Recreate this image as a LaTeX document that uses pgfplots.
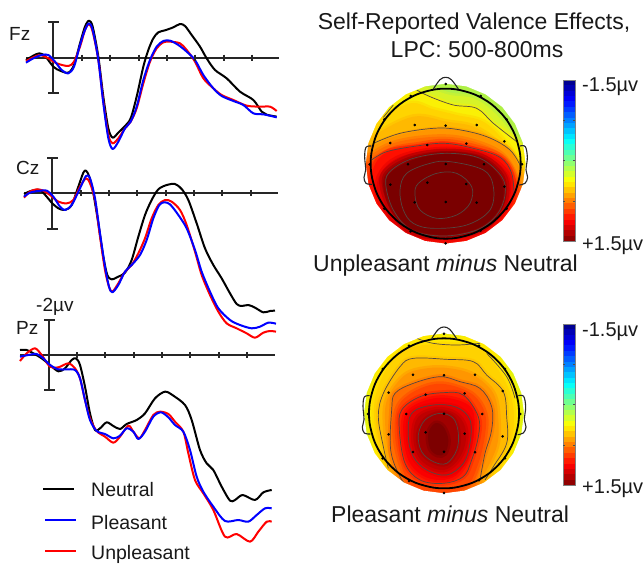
\documentclass[border=0pt]{standalone}
\usepackage{fontspec}
\setmainfont{Liberation Sans}
\usepackage{pgfplots}
\usepackage{pgfplotstable}
\pgfplotsset{compat=1.18}
\definecolor{erpred}{RGB}{255,0,0}
\definecolor{erpblue}{RGB}{0,0,255}
\definecolor{cline}{RGB}{85,70,65}
\newcommand\fs[1]{\fontsize{#1}{#1}\selectfont}
% every axis fills the whole picture, only the limits differ
\pgfplotsset{
  full/.style={scale only axis,width=644pt,height=564pt,at={(0,0)},anchor=south west,
    axis lines=none,ticks=none,y dir=reverse,enlargelimits=false},
  erp/.style={full,xmin=0,xmax=1932,ymin=#1,ymax=#1+1692},
  topo/.style 2 args={full,xmin=#1,xmax=#1+1932,ymin=#2,ymax=#2+1692},
  bar/.style 2 args={full,xmin=0,xmax=644,ymin=#1,ymax=#2},
  base/.style={black!85,line width=2pt},
  tk/.style={black!85,only marks,mark=|,mark size=3pt,mark options={line width=1.8pt}},
  range/.style={black!85,line width=2pt,mark=-,mark size=5.5pt,mark options={line width=2pt}},
  curve/.style={#1,smooth,tension=0.5,line width=2pt,line join=round},
}
% half transparent edge softens the step between two levels
\newcommand\lev[4]{\addplot[smooth cycle,tension=0.6,fill={rgb,255:red,#1;green,#2;blue,#3},draw={rgb,255:red,#1;green,#2;blue,#3},draw opacity=0.5,line width=5pt] coordinates {#4};}
\newcommand\iso[1]{\addplot[smooth,tension=0.6,cline,line width=0.7pt] coordinates {#1};}
\newcommand\isoc[1]{\addplot[smooth cycle,tension=0.6,cline,line width=0.7pt] coordinates {#1};}

% white ring round the coloured disk
\pgfplotstableread{
x y
-40 -40
620 -40
620 590
-40 590
-40 -40
47 281
55 219
79 161
117 111
167 73
225 49
287 41
349 49
407 73
457 111
495 161
519 219
527 281
519 343
495 401
457 451
407 489
349 513
287 521
225 513
167 489
117 451
79 401
55 343
47 281
-40 -40
}\ringtab
\pgfplotstableread{
x y
512 281
504 223
482 169
446 122
399 86
345 64
287 56
229 64
175 86
128 122
92 169
70 223
62 281
70 339
92 393
128 440
175 476
229 498
287 506
345 498
399 476
446 440
482 393
504 339
}\headtab
\pgfplotstableread{
x y
287 42
182 78
392 78
103 148
470 148
194 165
287 167
380 165
121 219
232 225
349 221
463 214
59 283
174 283
287 282
402 283
516 283
121 344
232 338
349 342
463 350
103 416
194 397
287 396
380 398
470 416
182 484
392 482
287 520
}\sitetab
\pgfplotstableread{
x y
569 -1.5
569 -1.4
569 -1.3
569 -1.2
569 -1.1
569 -1.0
569 -0.9
569 -0.8
569 -0.7
569 -0.6
569 -0.5
569 -0.4
569 -0.3
569 -0.2
569 -0.1
569 0
569 0.1
569 0.2
569 0.3
569 0.4
569 0.5
569 0.6
569 0.7
569 0.8
569 0.9
569 1.0
569 1.1
569 1.2
569 1.3
569 1.4
569 1.5
}\bartab

\newcommand\headparts{%
  \addplot[fill=white,draw=none,even odd rule] table[x=x,y=y] {\ringtab};
  \addplot[smooth cycle,tension=0.7,black,line width=1.8pt] table[x=x,y=y] {\headtab};
  \addplot[smooth,tension=0.6,black!85,line width=1.1pt] coordinates {(250,57)(270,29)(287,22)(304,29)(325,57)};
  \addplot[smooth,tension=0.6,black!85,line width=1.1pt] coordinates {(64,228)(48,232)(44,260)(47,300)(42,322)(48,340)(66,343)};
  \addplot[smooth,tension=0.6,black!85,line width=1.1pt] coordinates {(510,228)(526,230)(532,262)(528,300)(533,322)(525,340)(508,345)};
  \addplot[only marks,black,mark=*,mark size=1.1pt] table[x=x,y=y] {\sitetab};
}
\newcommand\colorbarparts{%
  \addplot[mesh,shader=flat,line width=12pt,colormap/jet,point meta=y,point meta min=-1.5,point meta max=1.5,line cap=butt] table[x=x,y=y] {\bartab};
  \addplot[gray,line width=0.6pt] coordinates {(563,-1.5)(575,-1.5)(575,1.5)(563,1.5)(563,-1.5)};
  \addplot[black!70,line width=0.5pt] coordinates {(563,-0.75)(565,-0.75)};
  \addplot[black!70,line width=0.5pt] coordinates {(573,-0.75)(575,-0.75)};
  \addplot[black!70,line width=0.5pt] coordinates {(563,0)(565,0)};
  \addplot[black!70,line width=0.5pt] coordinates {(573,0)(575,0)};
  \addplot[black!70,line width=0.5pt] coordinates {(563,0.75)(565,0.75)};
  \addplot[black!70,line width=0.5pt] coordinates {(573,0.75)(575,0.75)};
}

\begin{document}
\begin{tikzpicture}
\useasboundingbox (0,0) rectangle (644pt,564pt);
% Fz
\begin{axis}[erp=0]
\addplot[base] coordinates {(78,173)(838,173)};
\addplot[tk] coordinates {(246,173)(331,173)(416,173)(501,173)(586,173)(671,173)(756,173)};
\addplot[range] coordinates {(160,67)(160,280)};
\addplot[curve=black] coordinates {(78,180)(100,167)(118,160)(135,168)(160,200)(180,212)(205,218)(222,195)(240,130)(255,80)(267,62)(278,80)(295,170)(310,290)(325,385)(338,413)(355,398)(375,378)(392,355)(410,290)(430,200)(445,150)(460,115)(475,97)(495,91)(520,82)(540,72)(555,78)(575,105)(600,140)(620,175)(645,210)(680,235)(720,275)(760,300)(785,335)(800,344)(830,350)};
\addplot[curve=erpred] coordinates {(78,183)(100,172)(120,165)(145,175)(170,190)(205,198)(222,185)(240,140)(255,90)(267,72)(278,95)(295,180)(310,305)(325,405)(338,430)(355,415)(375,385)(392,365)(410,325)(430,250)(450,185)(470,145)(490,127)(510,125)(540,130)(560,150)(585,185)(610,235)(640,265)(665,285)(700,300)(740,317)(780,320)(810,320)(830,333)};
\addplot[curve=erpblue] coordinates {(78,188)(100,175)(125,165)(145,165)(165,185)(185,210)(205,220)(222,200)(240,135)(255,90)(267,70)(278,90)(295,180)(310,310)(325,415)(338,447)(355,425)(375,385)(392,365)(410,320)(430,240)(450,180)(470,140)(490,123)(510,122)(535,135)(560,155)(585,180)(610,225)(640,265)(665,288)(700,303)(730,315)(760,340)(790,343)(830,352)};
\end{axis}
% Cz
\begin{axis}[erp=-450]
\addplot[base] coordinates {(72,129)(835,129)};
\addplot[tk] coordinates {(242,129)(327,129)(411,129)(497,129)(582,129)(667,129)(752,129)};
\addplot[range] coordinates {(157,23)(157,237)};
\addplot[curve=black] coordinates {(72,132)(95,122)(120,120)(140,140)(157,160)(175,175)(195,180)(215,165)(235,110)(250,68)(258,62)(268,80)(280,130)(295,220)(310,320)(322,375)(335,388)(355,380)(375,368)(395,330)(415,260)(435,195)(455,150)(475,118)(500,105)(525,102)(545,117)(565,150)(590,220)(615,295)(640,345)(665,385)(690,430)(710,462)(725,468)(745,465)(765,473)(790,487)(810,483)(825,482)};
\addplot[curve=erpred] coordinates {(72,143)(90,125)(110,118)(130,122)(150,135)(175,155)(200,160)(220,150)(240,110)(258,85)(270,100)(285,150)(300,260)(315,360)(327,410)(337,425)(355,400)(375,365)(395,345)(415,310)(435,265)(455,205)(475,165)(495,150)(515,155)(540,180)(560,225)(585,305)(605,375)(630,435)(655,485)(680,520)(710,535)(740,550)(765,563)(790,548)(810,543)(828,545)};
\addplot[curve=erpblue] coordinates {(72,140)(90,128)(115,123)(140,122)(160,140)(180,170)(195,180)(215,165)(240,115)(258,78)(270,85)(285,145)(300,250)(315,350)(327,410)(337,427)(355,405)(375,365)(395,345)(420,315)(440,270)(460,205)(478,165)(493,157)(510,163)(535,195)(560,235)(585,300)(605,365)(630,425)(655,475)(690,510)(720,525)(755,535)(780,530)(805,518)(828,521)};
\end{axis}
% Pz and legend lines
\begin{axis}[erp=-870]
\addplot[base] coordinates {(60,195)(825,195)};
\addplot[tk] coordinates {(232,195)(316,195)(401,195)(486,195)(571,195)(656,195)(741,195)};
\addplot[range] coordinates {(147,90)(147,300)};
\addplot[curve=black] coordinates {(60,180)(80,180)(100,190)(125,205)(150,225)(175,244)(195,235)(215,210)(228,205)(240,225)(255,290)(270,370)(285,420)(300,415)(320,397)(340,408)(360,417)(380,402)(410,390)(435,370)(465,325)(495,305)(520,317)(555,345)(575,390)(600,480)(620,520)(640,540)(665,590)(690,632)(705,630)(728,615)(765,630)(790,607)(815,600)};
\addplot[curve=erpred] coordinates {(60,213)(80,190)(105,175)(125,195)(150,230)(175,232)(205,220)(225,235)(240,265)(255,330)(270,385)(290,423)(315,440)(340,458)(360,440)(385,407)(400,425)(418,445)(435,420)(460,375)(480,365)(505,372)(525,395)(550,425)(565,490)(585,570)(610,610)(640,660)(675,740)(710,732)(750,755)(775,725)(800,695)(815,695)};
\addplot[curve=erpblue] coordinates {(60,200)(85,195)(110,192)(130,205)(150,225)(175,238)(200,238)(225,240)(240,265)(255,330)(270,390)(290,423)(315,432)(340,445)(360,437)(380,415)(400,425)(415,447)(435,425)(460,380)(483,367)(505,382)(525,405)(550,425)(570,480)(590,560)(610,605)(640,650)(675,693)(715,690)(745,695)(770,675)(795,655)(815,655)};
\addplot[black,line width=1.8pt] coordinates {(130,597)(222,597)};
\addplot[erpblue,line width=1.8pt] coordinates {(135,690)(228,690)};
\addplot[erpred,line width=1.8pt] coordinates {(135,783)(228,783)};
\end{axis}
% upper map, unpleasant minus neutral
\begin{axis}[topo={-1050}{-210}]
\lev{175}{240}{70}{(40,30)(287,30)(530,30)(540,280)(540,530)(287,535)(40,530)(35,280)}
\lev{215}{243}{40}{(30,160)(110,70)(180,35)(240,55)(300,75)(370,85)(430,125)(490,195)(545,280)(545,540)(30,540)}
\lev{250}{240}{5}{(30,185)(100,95)(170,60)(240,80)(310,105)(380,115)(430,160)(500,215)(545,310)(545,540)(30,540)}
\lev{255}{212}{0}{(30,215)(85,150)(180,100)(250,118)(320,135)(400,155)(460,210)(510,275)(545,345)(545,540)(30,540)}
\lev{255}{185}{0}{(30,240)(75,195)(190,140)(290,155)(370,170)(440,215)(495,275)(530,345)(545,540)(30,540)}
\lev{255}{150}{0}{(30,270)(75,225)(150,195)(250,178)(320,180)(410,202)(480,242)(515,315)(535,400)(545,540)(30,540)}
\lev{255}{110}{0}{(30,295)(70,250)(150,214)(280,200)(380,217)(460,257)(505,335)(515,400)(500,540)(30,540)}
\lev{255}{60}{0}{(30,330)(65,275)(130,237)(200,224)(285,214)(375,230)(455,260)(495,322)(505,400)(440,500)(400,540)(30,540)}
\lev{255}{15}{0}{(50,410)(68,300)(110,247)(200,230)(285,222)(370,237)(450,264)(485,312)(492,380)(460,450)(385,510)(280,530)(170,520)(90,460)}
\lev{225}{0}{0}{(80,355)(105,292)(170,254)(290,237)(400,254)(470,307)(482,370)(450,440)(385,492)(280,510)(180,495)(110,435)}
\lev{165}{0}{0}{(95,340)(115,295)(185,258)(290,243)(395,258)(460,312)(470,375)(445,435)(385,482)(280,502)(185,485)(125,425)}
\lev{122}{0}{0}{(107,345)(125,305)(195,268)(290,252)(390,268)(450,322)(460,380)(435,435)(375,478)(280,495)(190,478)(130,420)}
\iso{(200,60)(240,80)(310,105)(380,115)(430,160)(500,215)}
\iso{(100,142)(130,105)}
\iso{(75,218)(150,190)(250,175)(320,178)(410,200)(480,240)(515,295)}
\iso{(65,270)(110,245)(200,228)(285,220)(370,235)(450,262)(485,310)(492,380)}
\isoc{(107,340)(125,300)(190,265)(290,250)(390,265)(455,320)(465,375)(440,435)(380,480)(280,498)(185,480)(130,420)}
\isoc{(150,360)(170,310)(240,280)(300,275)(400,300)(430,350)(420,420)(350,465)(250,475)(190,460)(160,420)}
\isoc{(195,375)(205,340)(260,310)(320,310)(365,350)(360,400)(320,435)(260,445)(210,420)}
\headparts
\end{axis}
% lower map, pleasant minus neutral
\begin{axis}[topo={-1050}{-960}]
\lev{225}{245}{15}{(35,280)(50,100)(280,30)(520,100)(530,280)(520,470)(280,530)(50,470)}
\lev{255}{235}{0}{(58,280)(70,180)(125,90)(200,50)(290,48)(390,60)(450,115)(495,210)(505,300)(475,430)(400,530)(160,530)(80,420)}
\lev{255}{210}{0}{(72,290)(85,200)(135,110)(195,80)(290,72)(385,85)(435,135)(482,225)(490,330)(455,440)(385,535)(150,535)(95,420)}
\lev{255}{185}{0}{(85,290)(100,220)(150,140)(190,115)(290,118)(370,125)(410,165)(460,215)(470,290)(470,370)(430,440)(385,535)(165,535)(105,400)}
\lev{255}{150}{0}{(105,300)(115,230)(165,165)(230,145)(300,145)(370,165)(430,220)(445,300)(440,380)(400,470)(375,535)(170,535)(120,420)}
\lev{255}{110}{0}{(122,390)(125,270)(135,220)(190,190)(270,170)(330,185)(390,205)(425,260)(425,330)(405,400)(380,480)(360,535)(190,535)(145,460)}
\lev{255}{70}{0}{(135,350)(140,270)(175,225)(240,195)(300,195)(370,225)(405,280)(405,345)(385,430)(350,500)(280,520)(190,500)(155,440)}
\lev{255}{30}{0}{(148,330)(155,270)(210,230)(280,218)(340,225)(385,290)(385,350)(365,420)(340,470)(280,490)(210,480)(165,430)}
\lev{250}{0}{0}{(160,340)(170,275)(230,240)(300,235)(365,265)(372,340)(355,410)(320,465)(270,480)(215,465)(175,420)}
\lev{225}{0}{0}{(175,350)(185,280)(250,255)(320,262)(360,300)(360,370)(340,430)(290,465)(230,450)(190,410)}
\lev{190}{0}{0}{(190,345)(205,290)(260,268)(315,280)(345,320)(345,375)(320,425)(280,450)(230,435)(200,400)}
\lev{160}{0}{0}{(205,345)(225,300)(270,280)(310,295)(325,340)(320,390)(290,430)(250,425)(215,395)}
\lev{125}{0}{0}{(235,340)(255,310)(280,320)(295,360)(285,400)(262,405)(240,385)}
\iso{(200,55)(250,70)(320,75)(390,70)}
\iso{(410,100)(470,170)(495,235)}
\iso{(115,445)(100,380)(85,290)(100,220)(150,140)(190,115)(290,118)(370,125)(410,165)(460,215)(470,290)(470,370)(430,440)(405,480)}
\iso{(180,510)(150,470)(122,390)(125,270)(135,220)(190,190)(270,170)(330,185)(390,205)(425,260)(425,330)(405,400)(390,480)}
\isoc{(148,330)(155,270)(210,230)(280,218)(340,225)(385,290)(385,350)(365,420)(340,470)(280,490)(210,480)(165,430)}
\isoc{(175,350)(185,280)(250,255)(320,262)(360,300)(360,370)(340,430)(290,465)(230,450)(190,410)}
\isoc{(205,345)(225,300)(270,280)(310,295)(325,340)(320,390)(290,430)(250,425)(215,395)}
\end{axis}
\begin{axis}[topo={-1045}{-959}]
\headparts
\end{axis}
% colour bars
\begin{axis}[bar={-2.9906}{7.518}]
\colorbarparts
\end{axis}
\begin{axis}[bar={-7.537}{2.972}]
\colorbarparts
\end{axis}
% all texts, in pixels of the picture
\begin{axis}[full,xmin=0,xmax=644,ymin=0,ymax=564]
\tikzset{every node/.style={anchor=base west,inner sep=0pt,text=black!90}}
\node at (axis cs:9,41) {\fs{19}Fz};
\node at (axis cs:16,175) {\fs{19}Cz};
\node at (axis cs:36,311) {\fs{19}-2µv};
\node at (axis cs:16,334) {\fs{19}Pz};
\node at (axis cs:91,496) {\fs{19.5}Neutral};
\node at (axis cs:91,529) {\fs{19.5}Pleasant};
\node at (axis cs:91,559) {\fs{19.5}Unpleasant};
\node[anchor=base] at (axis cs:474,30) {\fs{23}Self-Reported Valence Effects,};
\node[anchor=base] at (axis cs:477,57.5) {\fs{23}LPC: 500-800ms};
\node at (axis cs:313,271) {\fs{23}Unpleasant \textit{minus} Neutral};
\node at (axis cs:331,522) {\fs{23}Pleasant \textit{minus} Neutral};
\node at (axis cs:582,92) {\fs{20}-1.5µv};
\node at (axis cs:582,250) {\fs{20}+1.5µv};
\node at (axis cs:582,336) {\fs{20}-1.5µv};
\node at (axis cs:582,493) {\fs{20}+1.5µv};
\end{axis}
\end{tikzpicture}
\end{document}
